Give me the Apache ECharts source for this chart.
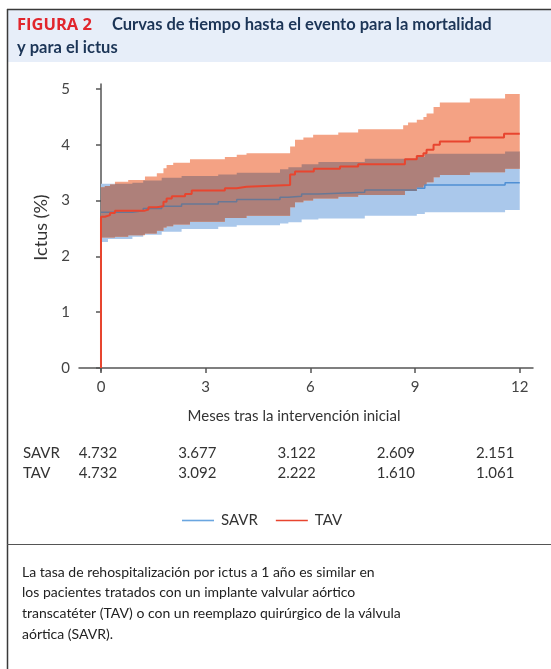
<!DOCTYPE html>
<html>
<head>
<meta charset="utf-8">
<script src="https://cdn.jsdelivr.net/npm/echarts@6/dist/echarts.min.js"></script>
<style>
html,body{margin:0;padding:0;background:#fff;}
#chart{width:551px;height:669px;}
</style>
</head>
<body>
<div id="chart"></div>
<script>
// ---- data ----
const xTicks = [0, 3, 6, 9, 12];
const yTicks = [0, 1, 2, 3, 4, 5];
const seriesNames = ['SAVR', 'TAV'];

// Kaplan-Meier style step curves: [month, cumulative incidence %]
const savrEstimate = [[0,2.79],[0.9,2.82],[1.21,2.86],[1.74,2.9],[2.31,2.94],[3.36,2.98],[3.89,3.02],[5.13,3.06],[5.37,3.08],[5.75,3.12],[6.23,3.15],[7.56,3.19],[9.05,3.22],[9.28,3.28],[11.58,3.32],[12,3.32]];
const savrUpper = [[0,3.3],[0.9,3.32],[1.21,3.36],[1.74,3.41],[2.31,3.44],[3.36,3.47],[3.89,3.5],[5.13,3.56],[5.37,3.6],[5.75,3.65],[6.23,3.69],[7.56,3.75],[9.05,3.78],[9.28,3.84],[11.58,3.88],[12,3.88]];
const savrLower = [[0,2.26],[0.2,2.31],[0.9,2.35],[1.21,2.39],[1.74,2.44],[2.31,2.49],[3.36,2.53],[3.89,2.56],[5.13,2.59],[5.37,2.61],[5.75,2.66],[6.23,2.68],[7.56,2.73],[9.05,2.76],[9.28,2.79],[11.58,2.83],[12,2.83]];

const tavEstimate = [[0,0],[0,2.71],[0.11,2.74],[0.26,2.78],[0.4,2.82],[1.26,2.84],[1.36,2.88],[1.6,2.9],[1.79,2.98],[1.88,3.04],[2.03,3.08],[2.41,3.12],[2.6,3.18],[3.55,3.22],[3.89,3.25],[4.17,3.28],[5.42,3.47],[5.56,3.52],[6.1,3.57],[6.85,3.61],[7.37,3.65],[8.71,3.74],[9.05,3.8],[9.24,3.85],[9.33,3.91],[9.53,4.0],[9.71,4.06],[10.57,4.13],[11.55,4.2],[12,4.2]];
const tavUpper = [[0,3.24],[0.11,3.26],[0.26,3.29],[0.4,3.34],[0.78,3.37],[1.26,3.43],[1.6,3.49],[1.79,3.58],[1.88,3.64],[2.07,3.68],[2.55,3.74],[3.55,3.78],[3.89,3.82],[4.17,3.85],[5.42,3.97],[5.56,4.09],[5.8,4.13],[6.08,4.18],[6.8,4.22],[7.37,4.28],[8.66,4.35],[8.8,4.4],[9.05,4.45],[9.24,4.5],[9.33,4.56],[9.53,4.68],[9.71,4.76],[10.57,4.83],[11.58,4.91],[12,4.91]];
const tavLower = [[0,2.34],[0.4,2.35],[0.78,2.38],[1.26,2.41],[1.6,2.46],[1.79,2.52],[1.88,2.54],[2.07,2.57],[2.55,2.62],[3.55,2.69],[4.17,2.73],[5.42,2.88],[5.56,2.97],[5.8,3.0],[6.08,3.04],[6.8,3.07],[7.37,3.1],[8.71,3.17],[9.05,3.23],[9.24,3.27],[9.33,3.33],[9.53,3.42],[9.71,3.46],[10.57,3.51],[11.58,3.57],[12,3.57]];

// numbers at risk
const riskRowLabels = ['SAVR', 'TAV'];
const savrAtRisk = ['4.732', '3.677', '3.122', '2.609', '2.151'];
const tavAtRisk = ['4.732', '3.092', '2.222', '1.610', '1.061'];

const captionLines = [
  'La tasa de rehospitalización por ictus a 1 año es similar en',
  'los pacientes tratados con un implante valvular aórtico',
  'transcatéter (TAV) o con un reemplazo quirúrgico de la válvula',
  'aórtica (SAVR).'
];

// ---- helpers ----
function stepAt(arr, t) {
  let v = arr[0][1];
  for (let i = 0; i < arr.length; i++) { if (arr[i][0] <= t) v = arr[i][1]; }
  return v;
}
const unionTimes = Array.from(new Set([].concat(savrUpper, savrLower, tavUpper, tavLower).map(function (p) { return p[0]; }))).sort(function (a, b) { return a - b; });
const overlapUpper = unionTimes.map(function (t) { return [t, Math.min(stepAt(savrUpper, t), stepAt(tavUpper, t))]; });
const overlapLower = unionTimes.map(function (t, i) {
  const lo = Math.max(stepAt(savrLower, t), stepAt(tavLower, t));
  return [t, Math.min(lo, overlapUpper[i][1])];
});
// time from which the SAVR estimate leaves the TAV band (no longer overlapped)
const savrTimes = Array.from(new Set(savrEstimate.concat(tavLower).map(function (p) { return p[0]; }))).sort(function (a, b) { return a - b; });
let savrExitTime = 99;
for (let i = 0; i < savrTimes.length; i++) {
  if (stepAt(tavLower, savrTimes[i]) >= stepAt(savrEstimate, savrTimes[i])) { savrExitTime = savrTimes[i]; break; }
}
const savrInside = savrEstimate.filter(function (p) { return p[0] < savrExitTime; })
  .concat([[savrExitTime, stepAt(savrEstimate.filter(function (p) { return p[0] < savrExitTime; }), savrExitTime)]]);
const savrOutside = savrEstimate.filter(function (p) { return p[0] >= savrExitTime; });

// ---- rendering ----
const FONT = 'Lato';
const chart = echarts.init(document.getElementById('chart'), null, {renderer: 'canvas'});

function bandRenderer(upper, lower, fill) {
  return function (params, api) {
    const pts = [];
    for (let i = 0; i < upper.length; i++) {
      pts.push(api.coord([upper[i][0], upper[i][1]]));
      if (i + 1 < upper.length) pts.push(api.coord([upper[i + 1][0], upper[i][1]]));
    }
    for (let i = lower.length - 1; i >= 0; i--) {
      if (i + 1 < lower.length) pts.push(api.coord([lower[i + 1][0], lower[i][1]]));
      pts.push(api.coord([lower[i][0], lower[i][1]]));
    }
    return {type: 'polygon', shape: {points: pts}, style: {fill: fill}, silent: true};
  };
}

const graphics = [];
// frame
graphics.push({type: 'line', shape: {x1: 7, y1: 9.5, x2: 551, y2: 9.5}, style: {stroke: '#3a3a3a', lineWidth: 1.5}, z: 10});
graphics.push({type: 'line', shape: {x1: 7.5, y1: 9, x2: 7.5, y2: 669}, style: {stroke: '#3a3a3a', lineWidth: 1.5}, z: 10});
graphics.push({type: 'line', shape: {x1: 7, y1: 544.5, x2: 551, y2: 544.5}, style: {stroke: '#555', lineWidth: 1}, z: 10});
// header background
graphics.push({type: 'rect', shape: {x: 8, y: 10, width: 543, height: 52}, style: {fill: '#e7eef9'}, z: 1});
graphics.push({type: 'text', x: 17, y: 25, style: {text: 'FIGURA 2', font: 'bold 16.5px "Open Sans"', fill: '#e1262d', textVerticalAlign: 'middle'}, z: 11});
graphics.push({type: 'text', x: 112, y: 25, style: {text: 'Curvas de tiempo hasta el evento para la mortalidad', font: 'bold 16.5px ' + FONT, fill: '#1c3557', textVerticalAlign: 'middle'}, z: 11});
graphics.push({type: 'text', x: 17, y: 48, style: {text: 'y para el ictus', font: 'bold 16.5px ' + FONT, fill: '#1c3557', textVerticalAlign: 'middle'}, z: 11});

// numbers-at-risk table
const riskRows = [savrAtRisk, tavAtRisk];
riskRows.forEach(function (row, r) {
  const y = 453 + r * 20;
  graphics.push({type: 'text', x: 23, y: y, style: {text: riskRowLabels[r], font: '15px ' + FONT, fill: '#333', textVerticalAlign: 'middle'}, z: 11});
  row.forEach(function (v, i) {
    graphics.push({type: 'text', x: 98 + i * 99.3, y: y, style: {text: v, font: '15px ' + FONT, fill: '#333', textAlign: 'center', textVerticalAlign: 'middle'}, z: 11});
  });
});

// caption
captionLines.forEach(function (line, i) {
  graphics.push({type: 'text', x: 22, y: 572 + i * 20.7, style: {text: line, font: '14px ' + FONT, fill: '#222', textVerticalAlign: 'middle'}, z: 11});
});

const option = {
  animation: false,
  backgroundColor: '#fff',
  textStyle: {fontFamily: FONT},
  grid: {left: 79, right: 18, top: 84, bottom: 298, containLabel: false},
  xAxis: {
    type: 'value', min: -0.63, max: 12.38,
    splitLine: {show: false},
    axisLine: {show: true, lineStyle: {color: '#555', width: 1.5}},
    axisTick: {show: true, length: 5, lineStyle: {color: '#555', width: 1.5}, customValues: xTicks},
    axisLabel: {show: true, color: '#444', fontSize: 15, fontFamily: FONT, margin: 9, customValues: xTicks},
    name: 'Meses tras la intervención inicial',
    nameLocation: 'middle', nameGap: 38,
    nameTextStyle: {color: '#333', fontSize: 15, fontFamily: FONT, padding: [0, 24, 0, 0]}
  },
  yAxis: {
    type: 'value', min: -0.054, max: 5.09,
    splitLine: {show: false},
    axisLine: {show: true, lineStyle: {color: '#555', width: 1.5}},
    axisTick: {show: true, length: 5, lineStyle: {color: '#555', width: 1.5}, customValues: yTicks},
    axisLabel: {show: true, color: '#444', fontSize: 15, fontFamily: FONT, margin: 9, customValues: yTicks},
    name: 'Ictus (%)',
    nameLocation: 'middle', nameGap: 28, nameRotate: 90,
    nameTextStyle: {color: '#333', fontSize: 18, fontFamily: FONT}
  },
  legend: {
    data: [
      {name: 'SAVR', itemStyle: {color: '#6aa6e0'}},
      {name: 'TAV', itemStyle: {color: '#e8452f'}}
    ],
    left: 177, top: 508,
    itemWidth: 32, itemHeight: 1.6, itemGap: 18,
    icon: 'rect',
    textStyle: {color: '#333', fontSize: 15, fontFamily: FONT, padding: [0, 0, 0, 2]}
  },
  graphic: graphics,
  series: [
    {
      type: 'custom', name: 'SAVR band', coordinateSystem: 'cartesian2d', z: 1, silent: true,
      data: [[0, 0]],
      renderItem: bandRenderer(savrUpper, savrLower, '#aac8eb')
    },
    {
      type: 'custom', name: 'TAV band', coordinateSystem: 'cartesian2d', z: 1, silent: true,
      data: [[0, 0]],
      renderItem: bandRenderer(tavUpper, tavLower, '#f4a284')
    },
    {
      type: 'custom', name: 'Overlap band', coordinateSystem: 'cartesian2d', z: 2, silent: true,
      data: [[0, 0]],
      renderItem: bandRenderer(overlapUpper, overlapLower, '#ae807a')
    },
    {
      type: 'line', name: 'SAVR', step: 'end', z: 3, showSymbol: false, symbol: 'none',
      data: savrInside, color: '#687896',
      lineStyle: {color: '#687896', width: 1.5}
    },
    {
      type: 'line', name: 'SAVR', step: 'end', z: 3, showSymbol: false, symbol: 'none',
      data: savrOutside, color: '#4f8fd4',
      lineStyle: {color: '#4f8fd4', width: 1.5}
    },
    {
      type: 'line', name: 'TAV', step: 'end', z: 4, showSymbol: false, symbol: 'none',
      data: tavEstimate, color: '#e8452f',
      lineStyle: {color: '#e8452f', width: 2}
    }
  ]
};
chart.setOption(option);
</script>
</body>
</html>
